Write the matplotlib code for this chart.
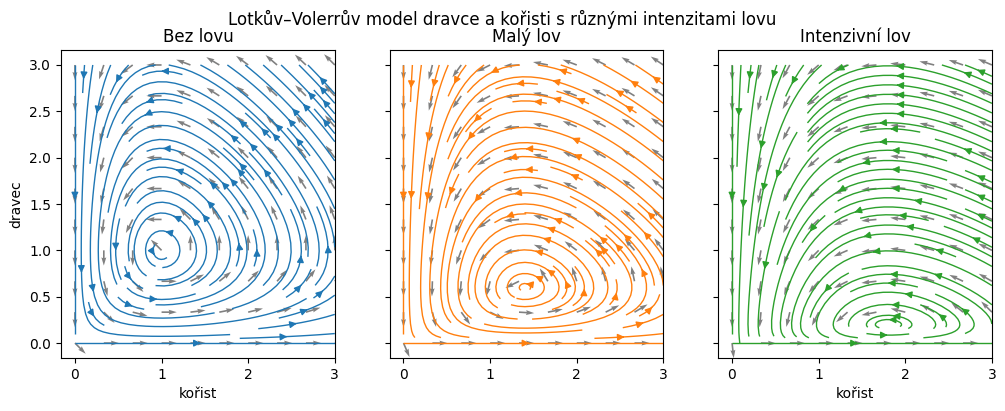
import numpy as np
import matplotlib.pyplot as plt

# Lotka-Volterra with harvesting: dx = a x - b x y - h x, dy = -c y + d x y - h y
a, b, c, d = 1.0, 1.0, 1.0, 1.0
hunting = [0.0, 0.4, 0.8]
titles = ['Bez lovu', 'Malý lov', 'Intenzivní lov']
colors = ['C0', 'C1', 'C2']

# grids
xs = np.linspace(0, 3, 20)
ys = np.linspace(0, 3, 20)
X, Y = np.meshgrid(xs, ys)

xq = np.linspace(0.001, 3, 10)
yq = np.linspace(0.001, 3, 10)
XQ, YQ = np.meshgrid(xq, yq)

fig, axes = plt.subplots(1, 3, figsize=(10.05, 4.11), dpi=100, sharey=True)
fig.subplots_adjust(left=0.0607, right=0.987, top=0.878, bottom=0.129, wspace=0.2)

for i, ax in enumerate(axes):
    h = hunting[i]
    U = a*X - b*X*Y - h*X
    V = -c*Y + d*X*Y - h*Y
    ax.streamplot(X, Y, U, V, color=colors[i], linewidth=1, density=1)

    UQ = a*XQ - b*XQ*YQ - h*XQ
    VQ = -c*YQ + d*XQ*YQ - h*YQ
    N = np.hypot(UQ, VQ)
    ax.quiver(XQ, YQ, UQ/N, VQ/N, color='gray')

    ax.set_title(titles[i])
    ax.set_xlim(-0.16, 3)
    ax.set_ylim(-0.16, 3.16)
    ax.set_xticks([0, 1, 2, 3])

axes[0].set_xlabel('kořist')
axes[2].set_xlabel('kořist')
axes[0].set_ylabel('dravec')
fig.suptitle('Lotkův–Volerrův model dravce a kořisti s různými intenzitami lovu', y=0.975)

fig.savefig('out.png', dpi=100)
